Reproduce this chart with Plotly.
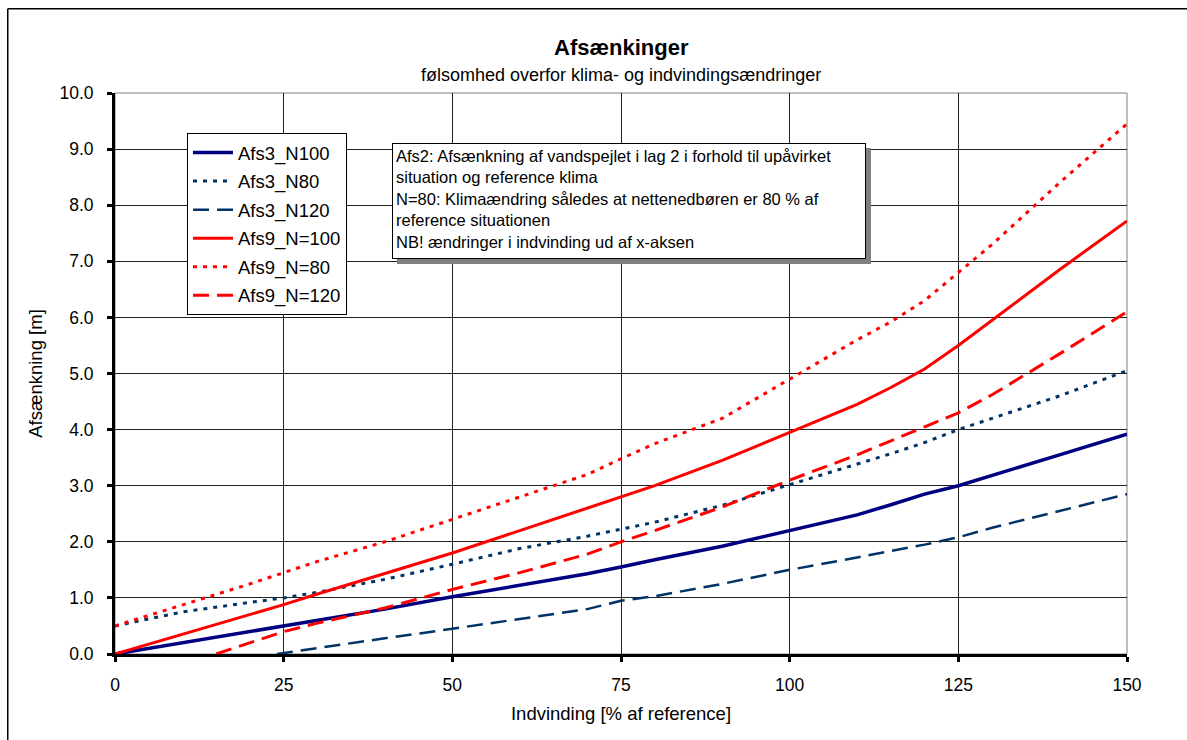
import plotly.graph_objects as go

# ---- data ----
x_main = [0, 10, 20, 25, 30, 40, 50, 60, 70, 75, 80, 90, 100, 110, 115, 120, 125, 130, 140, 150]
afs3_n100 = [0, 0.2, 0.4, 0.5, 0.6, 0.8, 1.02, 1.22, 1.43, 1.55, 1.68, 1.92, 2.2, 2.48, 2.66, 2.85, 3.0, 3.18, 3.55, 3.92]
afs3_n80 = [0.5, 0.75, 0.92, 1.0, 1.1, 1.33, 1.6, 1.88, 2.1, 2.22, 2.35, 2.65, 3.02, 3.38, 3.57, 3.77, 4.0, 4.2, 4.6, 5.05]
x_afs3_n120 = [24, 30, 40, 50, 60, 70, 75, 80, 90, 100, 110, 120, 125, 130, 140, 150]
afs3_n120 = [0, 0.1, 0.28, 0.45, 0.62, 0.8, 0.95, 1.03, 1.25, 1.5, 1.72, 1.95, 2.08, 2.25, 2.55, 2.85]
afs9_n100 = [0, 0.35, 0.7, 0.88, 1.07, 1.43, 1.8, 2.2, 2.6, 2.8, 3.0, 3.45, 3.95, 4.45, 4.75, 5.08, 5.5, 5.95, 6.85, 7.72]
afs9_n80 = [0.5, 0.87, 1.25, 1.45, 1.65, 2.0, 2.4, 2.8, 3.2, 3.48, 3.75, 4.2, 4.9, 5.6, 5.92, 6.3, 6.8, 7.3, 8.4, 9.45]
x_afs9_n120 = [15, 20, 25, 30, 40, 50, 60, 70, 75, 80, 90, 100, 110, 120, 125, 130, 140, 150]
afs9_n120 = [0, 0.2, 0.4, 0.55, 0.82, 1.15, 1.45, 1.78, 2.0, 2.2, 2.62, 3.1, 3.55, 4.05, 4.3, 4.62, 5.35, 6.1]

x_ticks = [0, 25, 50, 75, 100, 125, 150]
y_ticks = [0, 1, 2, 3, 4, 5, 6, 7, 8, 9, 10]

title = "Afsænkinger"
subtitle = "følsomhed overfor klima- og indvindingsændringer"
note = ("Afs2: Afsænkning af vandspejlet i lag 2 i forhold til upåvirket<br>"
        "situation og reference klima<br>"
        "N=80: Klimaændring således at nettenedbøren er 80 % af<br>"
        "reference situationen<br>"
        "NB! ændringer i indvinding ud af x-aksen")

NAVY = "#000080"
SLATE = "#003366"
RED = "#FF0000"
DOT = "4px,6px"
DASH = "16px,8px"

series = [
    ("Afs3_N100", x_main, afs3_n100, NAVY, "solid", 3.5),
    ("Afs3_N80", x_main, afs3_n80, SLATE, DOT, 3),
    ("Afs3_N120", x_afs3_n120, afs3_n120, SLATE, DASH, 2.5),
    ("Afs9_N=100", x_main, afs9_n100, RED, "solid", 3),
    ("Afs9_N=80", x_main, afs9_n80, RED, DOT, 3),
    ("Afs9_N=120", x_afs9_n120, afs9_n120, RED, DASH, 3),
]

fig = go.Figure()
for i, (name, xs, ys, col, dash, w) in enumerate(series):
    fig.add_trace(go.Scatter(
        x=xs, y=ys, name=name, mode="lines",
        line=dict(color=col, dash=dash, width=w),
        legendgroup=f"g{i}",
    ))

FONT = "Liberation Sans, Arial, sans-serif"
OFF = 0  # body margin removed via post_script
W, H = 1187, 740
L, T = 115 - OFF, 93 - OFF
PW, PH = 1012, 561
R = W - L - PW
B = H - T - PH


def px2paper(sx, sy):
    fx, fy = sx - OFF, sy - OFF
    return (fx - L) / PW, (H - B - fy) / PH


lx, ly = px2paper(187, 133)
ax_, ay_ = px2paper(392, 143)
s0x, s0y = px2paper(397, 148)
s1x, s1y = px2paper(871, 264)
ox0, oy0 = px2paper(7.75, 8.75)
ox1, oy1 = px2paper(1230, 790)

fig.update_layout(
    width=W, height=H,
    margin=dict(l=L, r=R, t=T, b=B),
    paper_bgcolor="white", plot_bgcolor="white",
    font=dict(family=FONT, size=17.5, color="black"),
    showlegend=True,
    legend=dict(
        x=lx, y=ly, xanchor="left", yanchor="top",
        bgcolor="white", bordercolor="black", borderwidth=1,
        font=dict(size=18.5, family=FONT),
        tracegroupgap=1.5, itemwidth=40,
    ),
    xaxis=dict(
        range=[0, 150], tickvals=x_ticks, ticktext=[str(v) for v in x_ticks],
        showgrid=True, gridcolor="#222222", gridwidth=1,
        showline=True, linecolor="black", linewidth=3,
        ticks="outside", ticklen=5, tickwidth=3, tickcolor="black",
        ticklabelstandoff=8,
        zeroline=False,
        title=dict(text="Indvinding [% af reference]", font=dict(size=18.5), standoff=14),
        tickfont=dict(size=17.5),
    ),
    yaxis=dict(
        range=[0, 10], tickvals=y_ticks, ticktext=[f"{v:.1f}" for v in y_ticks],
        showgrid=True, gridcolor="#222222", gridwidth=1,
        showline=True, linecolor="black", linewidth=3,
        ticks="outside", ticklen=5, tickwidth=3, tickcolor="black",
        ticklabelstandoff=10,
        zeroline=False,
        title=dict(text="Afsænkning [m]", font=dict(size=18.5), standoff=12),
        tickfont=dict(size=17.5),
    ),
    shapes=[
        dict(type="rect", xref="paper", yref="paper", x0=0, y0=0, x1=1, y1=1,
             line=dict(color="#808080", width=1), layer="below"),
        # outer chart border (left and top edges visible)
        dict(type="line", xref="paper", yref="paper", x0=ox0, y0=oy0, x1=ox0, y1=oy1,
             line=dict(color="black", width=1.5), layer="below"),
        dict(type="line", xref="paper", yref="paper", x0=ox0, y0=oy0, x1=ox1, y1=oy0,
             line=dict(color="black", width=1.5), layer="below"),
        dict(type="rect", xref="paper", yref="paper", x0=s0x, y0=s1y, x1=s1x, y1=s0y,
             fillcolor="#808080", line=dict(width=0), layer="above"),
    ],
    annotations=[
        dict(text=f"<b>{title}</b>", xref="paper", yref="paper", x=0.5, y=px2paper(0, 48)[1],
             xanchor="center", yanchor="middle", showarrow=False, font=dict(size=22)),
        dict(text=subtitle, xref="paper", yref="paper", x=0.5, y=px2paper(0, 75)[1],
             xanchor="center", yanchor="middle", showarrow=False, font=dict(size=18)),
        dict(text=note, xref="paper", yref="paper", x=ax_, y=ay_,
             xanchor="left", yanchor="top", showarrow=False, align="left",
             width=466, height=108, valign="top",
             font=dict(size=16.5), bgcolor="white", bordercolor="black", borderwidth=1,
             borderpad=3),
    ],
)

fig.write_html(
    "out.html",
    config={"displayModeBar": False},
    post_script="document.body.style.margin='0';document.body.style.overflow='hidden';",
)
